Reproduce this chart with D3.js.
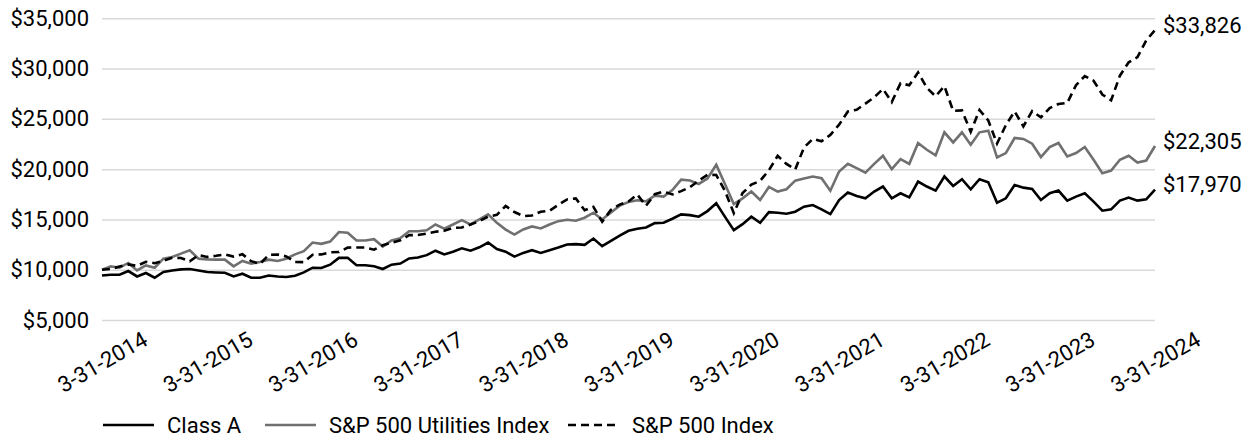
<!DOCTYPE html>
<html>
<head>
<meta charset="utf-8">
<script src="https://cdn.jsdelivr.net/npm/d3@7"></script>
<style>
  html, body { margin: 0; padding: 0; background: #ffffff; }
  svg { display: block; }
  text { font-family: Roboto, "Liberation Sans", "DejaVu Sans", sans-serif; fill: #000; }
</style>
</head>
<body>
<svg id="chart" width="1253" height="443"></svg>
<script>
// ---- data (monthly, 3-31-2014 .. 3-31-2024, hypothetical $10,000 investment) ----
const tickLabels = ["3-31-2014","3-31-2015","3-31-2016","3-31-2017","3-31-2018",
                    "3-31-2019","3-31-2020","3-31-2021","3-31-2022","3-31-2023","3-31-2024"];
const yTickValues = [5000, 10000, 15000, 20000, 25000, 30000, 35000];
const seriesNames = ["Class A", "S&P 500 Utilities Index", "S&P 500 Index"];

const classA = [
  9425, 9500, 9500, 9870, 9330, 9670, 9200, 9770, 9930, 10030, 10070, 9930,
  9770, 9730, 9700, 9330, 9600, 9200, 9200, 9430, 9330, 9270, 9400, 9730,
  10200, 10170, 10500, 11180, 11180, 10440, 10440, 10340, 10070, 10500, 10610, 11120,
  11220, 11450, 11890, 11520, 11790, 12130, 11890, 12230, 12700, 12060, 11790, 11300,
  11670, 11940, 11670, 11940, 12200, 12500, 12540, 12470, 13100, 12340, 12870, 13400,
  13870, 14070, 14200, 14630, 14670, 15070, 15500, 15430, 15270, 15830, 16600, 15250,
  13930, 14530, 15270, 14670, 15730, 15670, 15570, 15770, 16270, 16430, 16000, 15530,
  16930, 17670, 17330, 17100, 17770, 18270, 17100, 17600, 17200, 18770, 18270, 17870,
  19270, 18330, 19000, 18000, 19000, 18700, 16670, 17100, 18430, 18160, 18030, 16930,
  17600, 17870, 16870, 17270, 17600, 16770, 15870, 16000, 16870, 17170, 16870, 17000,
  17970
];
const utilities = [
  10000, 10330, 10200, 10670, 9930, 10430, 10200, 11100, 11270, 11600, 11930, 11100,
  11030, 11000, 11000, 10330, 10870, 10600, 10770, 11000, 10870, 11100, 11530, 11850,
  12700, 12570, 12800, 13750, 13680, 12910, 12910, 13040, 12300, 12910, 13140, 13820,
  13820, 13920, 14500, 14090, 14500, 14930, 14500, 15000, 15510, 14660, 13990, 13500,
  14000, 14300, 14100, 14500, 14830, 14970, 14870, 15170, 15670, 15000, 15700, 16370,
  16730, 16900, 16800, 17370, 17270, 17930, 18960, 18870, 18530, 19070, 20430, 18500,
  16530, 17100, 17770, 16930, 18230, 17770, 18000, 18860, 19060, 19260, 19100, 17860,
  19760, 20530, 20100, 19660, 20530, 21330, 20000, 21000, 20530, 22600, 21930, 21380,
  23660, 22660, 23660, 22430, 23660, 23830, 21160, 21600, 23100, 23000, 22530, 21200,
  22200, 22600, 21260, 21600, 22200, 20930, 19600, 19860, 20930, 21330, 20660, 20860,
  22305
];
const sp500 = [
  10000, 10074, 10311, 10524, 10379, 10794, 10643, 10903, 11196, 11168, 10832, 11455,
  11274, 11383, 11530, 11307, 11544, 10848, 10580, 11473, 11507, 11326, 10764, 10750,
  11479, 11524, 11731, 11762, 12196, 12213, 12215, 11993, 12437, 12683, 12924, 13437,
  13453, 13592, 13783, 13869, 14155, 14199, 14491, 14829, 15284, 15453, 16339, 15736,
  15336, 15395, 15766, 15864, 16454, 16990, 17087, 15918, 16243, 14776, 15960, 16472,
  16792, 17472, 16362, 17516, 17768, 17487, 17814, 18201, 18862, 19432, 19424, 17825,
  15624, 17627, 18466, 18833, 19895, 21325, 20515, 19969, 22155, 23006, 22774, 23403,
  24428, 25732, 25912, 26516, 27147, 27972, 26672, 28542, 28345, 29615, 28084, 27244,
  28255, 25791, 25837, 23705, 25890, 24834, 22547, 24373, 25736, 24254, 25777, 25148,
  26071, 26478, 26592, 28350, 29260, 28795, 27421, 26845, 29296, 30626, 31141, 32804,
  33826
];

// ---- chart ----
const svg = d3.select("#chart");
svg.append("rect").attr("width", 1253).attr("height", 443).attr("fill", "#fff");

const plotLeft = 102, plotRight = 1155, plotTop = 18.3, plotBottom = 320;
const nLast = classA.length - 1;
const x = d3.scaleLinear().domain([0, nLast]).range([plotLeft, plotRight]);
const y = d3.scaleLinear().domain([5000, 35000]).range([plotBottom, plotTop]);

const fontSize = 22;
const grayColor = "#707070";

// y axis with gridlines
const yAxis = svg.append("g")
  .attr("transform", `translate(${plotLeft},0)`)
  .call(d3.axisLeft(y).tickValues(yTickValues)
    .tickSize(-(plotRight - plotLeft)).tickPadding(13)
    .tickFormat(d => "$" + d3.format(",")(d)));
yAxis.select(".domain").remove();
yAxis.selectAll(".tick line").attr("stroke", "#d9d9d9").attr("stroke-width", 1.5);
yAxis.selectAll(".tick text").attr("font-size", fontSize)
  .style("font-family", "Roboto, 'Liberation Sans', sans-serif").attr("fill", "#000");

// x axis labels
const xTickIdx = tickLabels.map((_, i) => i * 12);
const xAxis = svg.append("g")
  .attr("transform", `translate(0,${plotBottom})`)
  .call(d3.axisBottom(x).tickValues(xTickIdx).tickSize(0)
    .tickFormat((d, i) => tickLabels[i]));
xAxis.select(".domain").remove();
xAxis.selectAll(".tick text")
  .attr("font-size", fontSize)
  .style("font-family", "Roboto, 'Liberation Sans', sans-serif")
  .attr("fill", "#000")
  .attr("text-anchor", "middle")
  .attr("y", 0).attr("dy", "0.35em")
  .attr("transform", "translate(0,42) rotate(-30)");

// lines
const series = [
  { name: seriesNames[1], values: utilities, color: grayColor, dash: null },
  { name: seriesNames[2], values: sp500, color: "#000000", dash: "8,5" },
  { name: seriesNames[0], values: classA, color: "#000000", dash: null }
];
const line = d3.line().x((d, i) => x(i)).y(d => y(d));
series.forEach(s => {
  svg.append("path")
    .datum(s.values)
    .attr("d", line)
    .attr("fill", "none")
    .attr("stroke", s.color)
    .attr("stroke-width", 2.6)
    .attr("stroke-linejoin", "miter")
    .attr("stroke-dasharray", s.dash);
});

// end labels
series.forEach(s => {
  const v = s.values[nLast];
  svg.append("text")
    .attr("x", x(nLast) + 8)
    .attr("y", y(v) - 5)
    .attr("dy", "0.35em")
    .attr("font-size", fontSize)
    .text("$" + d3.format(",")(v));
});

// legend
const legendItems = [
  { name: seriesNames[0], color: "#000000", dash: null, x0: 103 },
  { name: seriesNames[1], color: grayColor, dash: null, x0: 265 },
  { name: seriesNames[2], color: "#000000", dash: "8,5", x0: 568 }
];
const lg = svg.append("g").attr("transform", "translate(0,425)");
legendItems.forEach(it => {
  lg.append("line").attr("x1", it.x0).attr("x2", it.x0 + 51)
    .attr("y1", 0).attr("y2", 0)
    .attr("stroke", it.color).attr("stroke-width", 2.6)
    .attr("stroke-dasharray", it.dash);
  lg.append("text").attr("x", it.x0 + 64).attr("y", 0).attr("dy", "0.35em")
    .attr("font-size", fontSize).text(it.name);
});
</script>
</body>
</html>
